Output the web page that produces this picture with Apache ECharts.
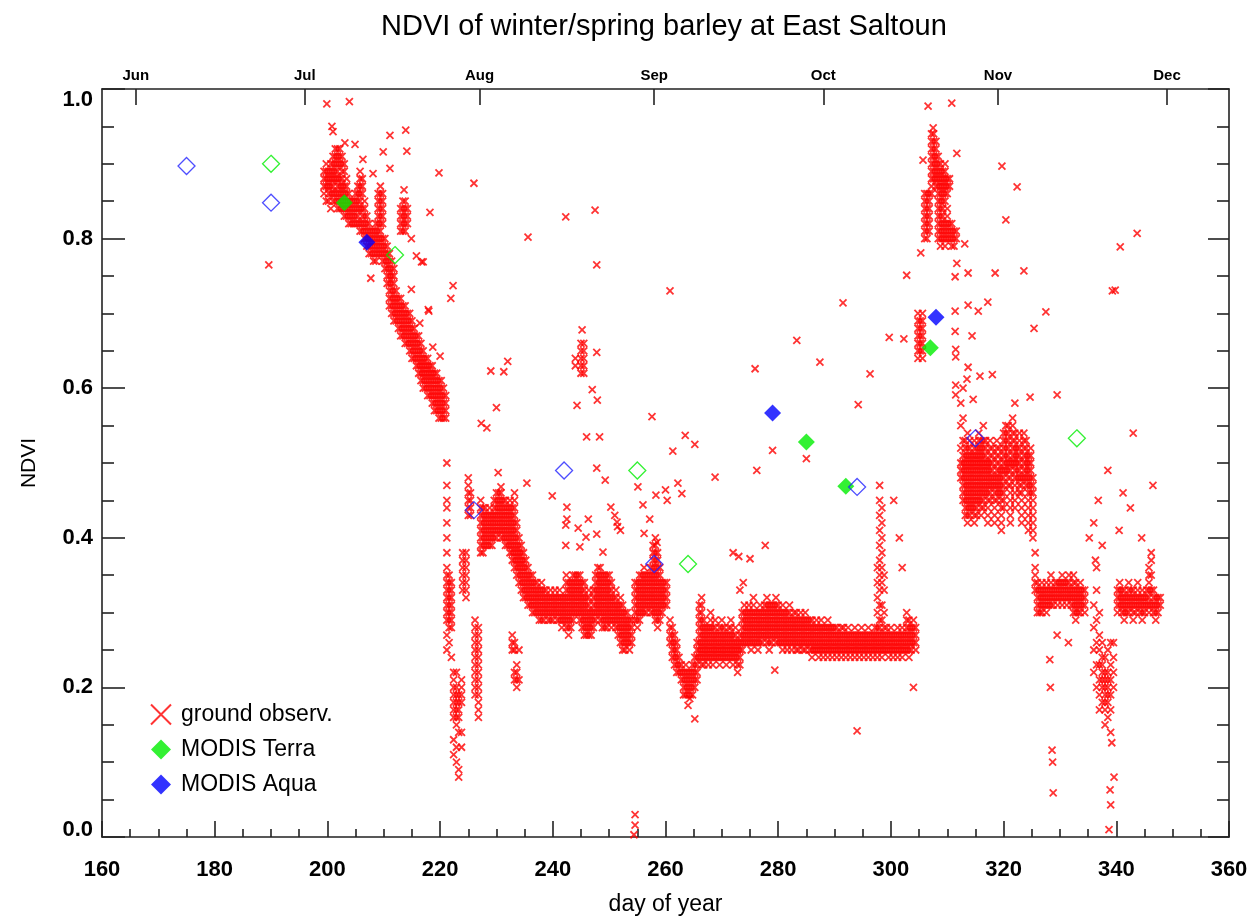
<!DOCTYPE html>
<html>
<head>
<meta charset="utf-8">
<title>NDVI of winter/spring barley at East Saltoun</title>
<script src="https://cdn.jsdelivr.net/npm/echarts@6/dist/echarts.min.js"></script>
<style>
  html, body { margin: 0; padding: 0; background: #fff; }
  #chart { width: 1251px; height: 917px; }
</style>
</head>
<body>
<div id="chart"></div>
<script>
// Ground NDVI readings, grouped by observation slot: [day of year, ndvi, ndvi, ...]
const groundJul = [
  [199.4,.86,.87,.88,.89],[199.8,.85,.87,.88,.89,.90],[200.2,.85,.86,.87,.88,.89],
  [200.6,.84,.86,.87,.88,.89,.90],[201.0,.85,.86,.87,.88,.89,.90,.91],
  [201.4,.85,.86,.88,.89,.90,.91,.92],[201.8,.84,.85,.86,.87,.88,.89,.90,.91,.92],
  [202.2,.84,.85,.86,.87,.88,.90,.91,.92],[202.6,.84,.85,.86,.87,.88,.89,.90,.91],
  [203.0,.83,.84,.85,.86,.87,.89,.90],[203.4,.83,.84,.85,.86,.87,.88],
  [203.8,.82,.83,.84,.85,.86],[204.2,.82,.83,.84,.85],[204.6,.82,.83,.84,.85],
  [205.0,.82,.83,.84,.85,.86],[205.4,.82,.83,.84,.85,.86,.87],
  [205.8,.81,.82,.84,.85,.86,.87,.88,.89],[206.2,.81,.82,.83,.84,.86,.87,.88],
  [206.6,.80,.81,.82,.83,.84,.85],[207.0,.79,.80,.81,.82,.83],[207.4,.78,.79,.80,.81,.82],
  [207.8,.78,.79,.80,.81],[208.2,.77,.78,.79,.80,.81],[208.6,.77,.78,.79,.80,.81,.82],
  [209.0,.78,.79,.80,.81,.82,.83,.84,.85,.86],[209.4,.78,.79,.80,.81,.82,.83,.84,.85,.86,.87],
  [209.8,.77,.78,.79,.80,.82,.83,.84,.85,.86],[210.2,.76,.77,.78,.79,.80],
  [210.6,.74,.75,.76,.77,.78,.79],[211.0,.71,.72,.73,.74,.75,.76,.77,.78],
  [211.4,.70,.71,.72,.73,.74,.75,.76,.77],[211.8,.69,.70,.71,.72,.73,.74,.75,.76],
  [212.2,.69,.70,.71,.72,.73],[212.6,.68,.69,.70,.71,.72],
  [213.0,.67,.68,.69,.70,.71,.72,.81,.82,.83,.84],[213.4,.67,.68,.69,.70,.71,.81,.82,.83,.84,.85],
  [213.8,.66,.67,.68,.69,.70,.71,.81,.82,.83,.84,.85],[214.2,.66,.67,.68,.69,.70,.82,.83,.84],
  [214.6,.65,.66,.67,.68,.69,.70],[215.0,.64,.65,.66,.67,.68,.69],[215.4,.64,.65,.66,.67,.68],
  [215.8,.63,.64,.65,.66,.67],[216.2,.62,.63,.64,.65,.66,.67],[216.6,.61,.62,.63,.64,.65,.66],
  [217.0,.60,.61,.62,.63,.64,.65],[217.4,.60,.61,.62,.63,.64],[217.8,.59,.60,.61,.62,.63,.64],
  [218.2,.59,.60,.61,.62,.63],[218.6,.58,.59,.60,.61,.62,.63],[219.0,.57,.58,.59,.60,.61,.62],
  [219.4,.57,.58,.59,.60,.61,.62],[219.8,.56,.57,.58,.59,.60,.61],[220.2,.56,.57,.58,.59,.60,.61],
  [220.6,.56,.57,.58,.59,.60],[221.0,.56,.57,.58,.59]
];

const groundAug = [
  [221.2,.50,.47,.45,.44,.42,.40,.38,.36,.35,.34,.33,.32,.31,.30,.29,.27,.25],
  [221.6,.35,.34,.33,.32,.31,.30,.29,.28,.26],[222.0,.34,.33,.32,.31,.30,.29,.28,.24],
  [222.4,.22,.21,.20,.19,.18,.17,.16,.13,.11],[222.9,.22,.20,.19,.18,.17,.16,.15,.12,.10],
  [223.3,.19,.18,.17,.16,.14,.09,.08],[223.8,.21,.20,.19,.18,.14,.12],
  [224.0,.38,.37,.36,.35,.34,.33],[224.6,.38,.37,.36,.35,.34,.33,.32],
  [225.0,.43,.44,.45,.46,.47,.48],[225.4,.43,.44,.45,.46],
  [226.2,.29,.28,.27,.26,.25,.24,.23,.22,.21,.20,.19],
  [226.8,.28,.27,.26,.25,.24,.23,.22,.21,.20,.19,.18,.17,.16],
  [227.2,.38,.39,.40,.41,.42,.43,.44,.45],[227.6,.38,.39,.40,.41,.42,.43,.44],
  [228.0,.39,.40,.41,.42,.43,.44],[228.4,.39,.40,.41,.42,.43],[228.8,.39,.40,.41,.42,.43,.44],
  [229.2,.39,.40,.41,.42,.43],[229.6,.40,.41,.42,.43,.44,.45],[230.0,.40,.41,.42,.43,.44,.45,.46],
  [230.4,.41,.42,.43,.44,.45,.46],[230.8,.40,.41,.42,.43,.44,.45,.46],[231.2,.40,.41,.42,.43,.44,.45],
  [231.6,.39,.40,.41,.42,.43,.44,.45],[232.0,.39,.40,.41,.42,.43,.44],
  [232.4,.38,.39,.40,.41,.42,.43,.44,.45],[232.8,.37,.38,.39,.40,.41,.42,.43,.44,.27,.26,.25],
  [233.2,.36,.37,.38,.39,.40,.41,.42,.43,.44,.45,.46,.26,.25,.22,.21],
  [233.6,.35,.36,.37,.38,.39,.40,.41,.42,.23,.22,.21,.20],[234.0,.34,.35,.36,.37,.38,.39,.40,.25,.21],
  [234.4,.33,.34,.35,.36,.37,.38,.39],[234.8,.32,.33,.34,.35,.36,.37,.38],
  [235.2,.32,.33,.34,.35,.36,.37],[235.6,.31,.32,.33,.34,.35,.36],[236.0,.31,.32,.33,.34,.35],
  [236.4,.30,.31,.32,.33,.34,.35],[236.8,.30,.31,.32,.33,.34],[237.2,.30,.31,.32,.33,.34],
  [237.6,.29,.30,.31,.32,.33],[238.0,.29,.30,.31,.32,.33,.34],[238.4,.29,.30,.31,.32,.33],
  [238.8,.30,.31,.32,.33],[239.2,.29,.30,.31,.32],[239.6,.29,.30,.31,.32,.33],
  [240.0,.29,.30,.31,.32],[240.4,.30,.31,.32,.33],[240.8,.29,.30,.31,.32],
  [241.2,.29,.30,.31,.32,.33],[241.6,.28,.29,.30,.31,.32],[242.0,.29,.30,.31,.32],
  [242.4,.28,.29,.30,.31,.32,.33,.34,.35],[242.8,.27,.28,.29,.30,.31,.32,.33,.34],
  [243.2,.28,.29,.30,.31,.32,.33,.34],[243.6,.29,.30,.31,.32,.33,.34,.35],
  [244.0,.30,.31,.32,.33,.34,.35,.63,.64],[244.4,.30,.31,.32,.33,.34,.35],
  [244.8,.29,.30,.31,.32,.33,.34,.35],[245.0,.62,.63,.64,.65,.66],
  [245.2,.28,.29,.30,.31,.32,.33,.34],[245.5,.62,.63,.64,.65,.66],
  [245.6,.27,.28,.29,.30,.31,.32,.33,.34],[246.0,.27,.28,.29,.30,.31,.32],
  [246.4,.27,.28,.29,.30,.31,.32,.33],[246.8,.27,.28,.29,.30],[247.2,.28,.29,.30,.31,.32,.33],
  [247.6,.29,.30,.31,.32,.33,.34,.35],[248.0,.30,.31,.32,.33,.34,.35,.36],
  [248.4,.29,.30,.31,.32,.33,.34,.35,.36],[248.8,.28,.29,.30,.31,.32,.33,.34,.35],
  [249.2,.28,.29,.30,.31,.32,.33,.34,.35],[249.6,.28,.29,.30,.31,.32,.33,.34,.35],
  [250.0,.29,.30,.31,.32,.33,.34,.35],[250.4,.28,.29,.30,.31,.32,.33,.34],
  [250.8,.29,.30,.31,.32],[251.2,.28,.29,.30,.31,.32,.33],[251.6,.27,.28,.29,.30,.31],
  [252.0,.26,.27,.28,.29,.30,.31,.32],[252.4,.25,.26,.27,.28,.29,.30,.31],
  [252.8,.25,.26,.27,.28,.29,.30],[253.2,.26,.27,.28,.29,.30],[253.6,.25,.26,.27,.28,.29],
  [254.0,.26,.27,.28,.29]
];

const groundSep = [
  [254.6,.29,.30,.31,.32,.33,.34],[255.0,.28,.29,.30,.31,.32,.33,.34],
  [255.4,.29,.30,.31,.32,.33,.34,.35],[255.8,.30,.31,.32,.33,.34,.35],
  [256.2,.30,.31,.32,.33,.34,.35,.36],[256.6,.30,.31,.32,.33,.34,.35],[257.0,.31,.32,.33,.34,.35],
  [257.4,.30,.31,.32,.33,.34,.35,.36],[257.8,.30,.31,.32,.33,.34,.35,.36,.37,.38,.39],
  [258.2,.29,.30,.31,.32,.33,.34,.35,.36,.37,.38,.39,.40],
  [258.6,.28,.29,.30,.31,.32,.33,.34,.35,.36,.37,.38],[259.0,.29,.30,.31,.32,.33,.34,.35,.36],
  [259.4,.30,.31,.32,.33,.34],[259.8,.31,.32,.33,.34],[260.2,.31,.32,.33,.34],
  [260.8,.26,.27,.28,.29],[261.2,.24,.25,.26,.27,.28],[261.6,.23,.24,.25,.26,.27],
  [262.0,.22,.23,.24,.25,.26],[262.4,.22,.23,.24],[262.8,.21,.22,.23],
  [263.2,.19,.20,.21,.22],[263.6,.19,.20,.21,.22,.23],[264.0,.19,.20,.21,.22],
  [264.4,.19,.20,.21,.22],[264.8,.19,.20,.21,.22,.23],[265.2,.20,.21,.22,.23,.24],
  [265.6,.21,.22,.23,.24,.25,.26],
  [266.0,.24,.25,.26,.27,.28,.29,.30,.31],[266.4,.23,.24,.25,.26,.27,.28,.29,.30,.31,.32],
  [266.8,.23,.24,.25,.26,.27,.28,.29],[267.2,.24,.25,.26,.27,.28],[267.6,.23,.24,.25,.26,.27,.28],
  [268.0,.24,.25,.26,.27,.28,.29,.30],[268.4,.23,.24,.25,.26,.27,.28],[268.8,.24,.25,.26,.27,.28,.29],
  [269.2,.24,.25,.26,.27],[269.6,.23,.24,.25,.26,.27,.28],[270.0,.24,.25,.26,.27,.28,.29],
  [270.4,.24,.25,.26,.27,.28],[270.8,.23,.24,.25,.26,.27],[271.2,.24,.25,.26,.27,.28],
  [271.6,.24,.25,.26,.27,.28,.29],[272.0,.23,.24,.25,.26,.27],[272.4,.24,.25,.26,.27,.28],
  [272.8,.22,.23,.24,.25,.26],[273.2,.23,.24,.25,.26,.27],[273.6,.25,.26,.27,.28,.29,.30],
  [274.0,.26,.27,.28,.29,.30,.31],[274.4,.26,.27,.28,.29,.30],[274.8,.26,.27,.28,.29,.30,.31],
  [275.2,.25,.26,.27,.28,.29,.30],[275.6,.26,.27,.28,.29,.30,.31,.32],[276.0,.26,.27,.28,.29,.30],
  [276.4,.25,.26,.27,.28,.29,.30],[276.8,.26,.27,.28,.29,.30,.31],[277.2,.26,.27,.28,.29,.30],
  [277.6,.27,.28,.29,.30,.31],[278.0,.26,.27,.28,.29,.30,.31,.32],[278.4,.25,.26,.27,.28,.29,.30,.31],
  [278.8,.26,.27,.28,.29,.30,.31],[279.2,.27,.28,.29,.30,.31],[279.6,.26,.27,.28,.29,.30,.31,.32],
  [280.0,.26,.27,.28,.29,.30,.31],[280.4,.26,.27,.28,.29,.30],[280.8,.25,.26,.27,.28,.29,.30,.31],
  [281.2,.26,.27,.28,.29,.30],[281.6,.25,.26,.27,.28,.29,.30],[282.0,.26,.27,.28,.29,.30,.31],
  [282.4,.25,.26,.27,.28,.29],[282.8,.26,.27,.28,.29,.30],[283.2,.25,.26,.27,.28,.29,.30],
  [283.6,.25,.26,.27,.28,.29],[284.0,.26,.27,.28,.29,.30],[284.4,.25,.26,.27,.28,.29],
  [284.8,.25,.26,.27,.28,.29,.30],[285.2,.26,.27,.28,.29],[285.6,.25,.26,.27,.28,.29]
];

const groundOct = [
  [286.0,.24,.25,.26,.27,.28,.29],[286.4,.25,.26,.27,.28],[286.8,.25,.26,.27,.28,.29],
  [287.2,.24,.25,.26,.27,.28],[287.6,.25,.26,.27,.28,.29],[288.0,.24,.25,.26,.27,.28],
  [288.4,.25,.26,.27,.28],[288.8,.24,.25,.26,.27,.28,.29],[289.2,.25,.26,.27,.28],
  [289.6,.24,.25,.26,.27,.28],[290.0,.25,.26,.27,.28],[290.4,.24,.25,.26,.27,.28],
  [290.8,.25,.26,.27],[291.2,.24,.25,.26,.27,.28],[291.6,.25,.26,.27,.28],[292.0,.24,.25,.26,.27],
  [292.4,.25,.26,.27,.28],[292.8,.24,.25,.26,.27],[293.2,.25,.26,.27],[293.6,.24,.25,.26,.27,.28],
  [294.0,.25,.26,.27],[294.4,.24,.25,.26,.27],[294.8,.25,.26,.27,.28],[295.2,.24,.25,.26,.27],
  [295.6,.25,.26,.27],[296.0,.24,.25,.26,.27,.28],[296.4,.25,.26,.27],[296.8,.24,.25,.26,.27],
  [297.2,.25,.26,.27,.28],[297.6,.24,.25,.26,.27,.28,.30,.32,.34,.36],
  [298.0,.25,.26,.27,.28,.29,.31,.33,.35,.37,.39,.41,.43,.45,.47],
  [298.4,.24,.25,.26,.27,.29,.31,.34,.36,.38,.40,.42,.44],[298.8,.25,.26,.27,.28,.30,.33,.35],
  [299.2,.25,.26,.27,.28],[299.6,.24,.25,.26,.27],[300.0,.25,.26,.27,.28],[300.4,.24,.25,.26,.27],
  [300.8,.25,.26,.27],[301.2,.24,.25,.26,.27,.28],[301.6,.25,.26,.27],[302.0,.24,.25,.26,.27,.28],
  [302.4,.25,.26,.27],[302.8,.25,.26,.27,.28,.29,.30],[303.2,.24,.25,.26,.27,.28,.29],
  [303.6,.25,.26,.27,.28],[304.0,.26,.27,.28,.29],[304.4,.25,.26,.27,.28],
  [304.8,.64,.65,.66,.67,.68,.69,.70],[305.2,.65,.66,.67,.68,.69],[305.6,.64,.65,.66,.67,.68,.69,.70],
  [306.0,.80,.81,.82,.83,.84,.85,.86],[306.4,.80,.81,.82,.83,.84,.85,.86],[306.8,.81,.82,.83,.84,.85,.86],
  [307.2,.86,.87,.88,.89,.90,.91,.92,.93,.94],[307.6,.88,.89,.90,.91,.92,.93,.94],
  [308.0,.87,.88,.89,.90,.91,.92,.93],[308.4,.80,.81,.82,.83,.84,.85,.86,.87,.88,.89,.90,.91],
  [308.8,.79,.80,.81,.82,.83,.84,.85,.86,.87,.88,.89,.90],[309.2,.80,.81,.82,.83,.84,.85,.86,.87,.88,.89],
  [309.6,.79,.80,.81,.82,.85,.86,.87,.88,.89,.90],[310.0,.80,.81,.82,.83,.84,.86,.87,.88],
  [310.4,.80,.81,.82,.87,.88],[310.8,.79,.80,.81,.82],[311.2,.79,.80,.81],[311.6,.80,.81]
];

const groundNov = [
  [312.4,.48,.49,.50,.52,.55,.58],[312.8,.45,.46,.47,.48,.49,.50,.51,.53,.56,.60],
  [313.2,.43,.44,.45,.46,.47,.48,.49,.50,.51,.52,.53],[313.6,.42,.43,.44,.45,.46,.47,.48,.49,.50,.51,.52,.54],
  [314.0,.43,.44,.45,.46,.47,.48,.49,.50,.51,.52,.53],[314.4,.44,.45,.46,.47,.48,.49,.50,.51],
  [314.8,.42,.43,.44,.45,.46,.47,.48,.49,.50,.51,.52,.53],[315.2,.43,.44,.45,.46,.47,.48,.49,.50,.51,.52],
  [315.6,.45,.46,.47,.48,.49,.50,.51,.52,.53,.54],[316.0,.43,.44,.45,.46,.47,.48,.49,.50,.51,.52,.53],
  [316.4,.44,.45,.46,.47,.48,.49,.50,.51,.52,.53,.55],[316.8,.46,.47,.48,.49,.50,.51,.52,.53],
  [317.2,.42,.43,.44,.45,.46,.47,.48,.49,.50],[317.6,.45,.46,.47,.48,.49,.50,.51,.52,.53],
  [318.0,.47,.48,.49,.50,.51,.52],[318.4,.42,.43,.44,.45,.46,.47,.48],
  [318.8,.45,.46,.47,.48,.49,.50,.51,.52,.53],[319.2,.46,.47,.48,.49,.50,.51,.52],
  [319.6,.41,.42,.43,.44,.45,.46,.47,.48,.49],[320.0,.44,.45,.46,.47,.48,.49,.50,.51,.52,.53,.54],
  [320.4,.49,.50,.51,.52,.53,.54,.55],[320.8,.47,.48,.49,.50,.51,.52,.53,.54,.55],
  [321.2,.42,.43,.44,.45,.46,.47,.48,.49,.50],[321.6,.50,.51,.52,.53,.54,.55,.56],
  [322.0,.44,.45,.46,.47,.48,.49,.50,.51,.52,.53,.54],[322.4,.48,.49,.50,.51,.52],
  [322.8,.46,.47,.48,.49,.50,.51,.52,.53,.54],[323.2,.42,.43,.44,.45,.46,.47,.48],
  [323.6,.48,.49,.50,.51,.52,.53,.54],[324.0,.47,.48,.49,.50,.51,.52,.53],
  [324.4,.41,.42,.43,.44,.45,.46,.47,.48,.49,.50,.51],[324.8,.46,.47,.48,.49,.50,.51,.52],
  [325.2,.40,.41,.42,.43,.44,.45,.46,.47,.48],[325.6,.33,.34,.35,.36,.38],
  [326.0,.30,.31,.32,.33,.34],[326.4,.30,.31,.32,.33],[326.8,.30,.31,.32,.33,.34],[327.2,.31,.32,.33],
  [327.6,.30,.31,.32,.33,.34],[328.0,.31,.32,.33],[328.4,.31,.32,.33,.34,.35],[328.8,.31,.32,.33],
  [329.2,.32,.33,.34],[329.6,.31,.32,.33,.34],[330.0,.32,.33,.34],[330.4,.31,.32,.33,.34,.35],
  [330.8,.32,.33,.34],[331.2,.31,.32,.33,.34],[331.6,.32,.33,.34,.35],[332.0,.31,.32,.33],
  [332.4,.30,.31,.32,.33,.34,.35],[332.8,.29,.30,.31,.32,.33,.34],[333.2,.30,.31,.32,.33],
  [333.6,.30,.31,.32,.33,.34],[334.0,.31,.32,.33],[334.4,.30,.31,.32,.33],
  [336.0,.22,.25,.28,.31],[336.5,.20,.23,.26,.29,.33,.36],[337.0,.17,.19,.21,.23,.25,.27,.30],
  [337.5,.18,.20,.21,.22,.23,.24,.26],[338.0,.15,.17,.18,.19,.20,.21,.22,.24],
  [338.5,.16,.18,.19,.20,.21,.22,.25],[339.0,.14,.17,.19,.21,.23,.26],[339.5,.20,.22,.24,.26]
];

const groundDec = [
  [340.2,.30,.31,.32,.33],[340.6,.31,.32,.33,.34],[341.0,.30,.31,.32,.33],[341.4,.29,.30,.31,.32,.33],
  [341.8,.30,.31,.32],[342.2,.30,.31,.32,.33,.34],[342.6,.31,.32,.33],[343.0,.29,.30,.31,.32,.33],
  [343.4,.30,.31,.32],[343.8,.31,.32,.33,.34],[344.2,.30,.31,.32],[344.6,.29,.30,.31,.32,.33],
  [345.0,.30,.31,.32],[345.4,.31,.32,.33],[345.8,.30,.31,.32,.33,.34,.35,.36],
  [346.2,.31,.33,.35,.37,.38],[346.6,.30,.31,.32,.33],[347.0,.29,.30,.31,.32],
  [347.4,.30,.31,.32],[347.8,.31,.32]
];

// Isolated ground readings: [day of year, ndvi]
const groundIsolated = [
  [189.6,.765],[199.9,.98],[203.9,.983],[200.8,.95],[201.0,.943],[203.1,.928],[204.9,.926],
  [211.1,.938],[213.9,.945],[209.9,.916],[214.1,.917],[206.3,.906],[211.1,.894],[219.8,.888],
  [208.1,.887],[213.6,.865],[218.2,.835],[214.9,.80],[216.7,.769],[215.8,.777],[207.7,.747],
  [214.9,.732],[217.9,.705],[217.0,.769],[222.3,.737],[221.9,.72],[218.0,.703],[218.7,.655],
  [220.0,.643],[216.4,.687],[226.0,.874],[235.6,.802],[242.3,.829],[247.5,.838],
  [232.0,.636],[229.0,.623],[231.3,.622],[230.0,.574],[227.3,.553],[228.3,.547],[245.2,.678],
  [247.8,.765],[260.8,.73],[247.8,.648],[247.0,.598],[247.9,.584],[244.3,.577],[257.6,.562],
  [246.0,.535],[248.3,.535],[263.5,.537],[265.2,.525],[261.3,.516],[275.9,.626],[276.2,.49],
  [268.8,.481],[230.3,.487],[230.8,.468],[235.4,.473],[239.9,.456],[242.5,.441],[247.8,.493],
  [249.3,.477],[255.1,.468],[260.0,.464],[256.0,.444],[262.2,.473],[262.9,.459],[258.3,.457],
  [260.3,.45],[250.3,.441],[242.5,.425],[246.3,.425],[242.3,.417],[244.5,.413],[247.8,.405],
  [245.9,.401],[242.3,.39],[248.9,.381],[244.8,.388],[251.4,.421],[251.0,.43],[251.5,.415],
  [252.0,.41],[257.2,.425],[256.2,.406],[258.5,.394],[277.7,.39],[273.8,.34],[273.2,.33],
  [272.0,.38],[273.0,.375],[275.0,.372],[254.6,.03],[254.6,.016],[254.4,.003],
  [265.2,.158],[264.0,.176],[264.3,.185],[279.4,.223],[294.0,.142],
  [283.3,.664],[279.0,.517],[285.0,.506],[287.4,.635],[291.5,.714],[294.2,.578],[296.3,.619],
  [299.7,.668],[302.3,.666],[302.8,.751],[304.0,.20],[300.5,.45],[301.5,.40],[302.0,.36],
  [306.6,.977],[310.8,.981],[307.5,.948],[311.7,.914],[305.7,.905],[319.7,.897],[322.4,.869],
  [320.4,.825],[343.7,.807],[340.7,.789],[305.3,.781],[313.1,.793],[311.7,.767],[311.4,.749],
  [313.7,.754],[318.5,.754],[323.6,.757],[339.8,.731],[313.7,.711],[315.5,.703],[317.2,.715],
  [327.5,.702],[311.4,.703],[325.4,.68],[311.4,.676],[314.4,.67],[311.5,.652],[311.5,.642],
  [313.7,.628],[315.8,.616],[318.0,.618],[313.5,.612],[311.5,.604],[311.5,.591],[314.6,.585],
  [322.0,.58],[324.7,.588],[329.5,.591],
  [328.2,.237],[328.3,.20],[328.6,.116],[328.7,.10],[328.8,.059],[329.5,.27],[331.5,.26],
  [335.2,.40],[336.3,.37],[336.0,.42],[336.8,.45],[337.5,.39],[338.5,.49],[339.2,.126],
  [339.6,.08],[338.9,.063],[339.0,.043],[338.7,.01],[340.5,.41],[341.2,.46],[342.5,.44],
  [343.0,.54],[344.5,.40],[346.5,.47],[339.3,.73]
];

// MODIS NDVI retrievals: [day of year, ndvi]
const terraFilled = [[203,.848],[285,.528],[292,.469],[307,.654]];
const terraOpen   = [[190,.90],[212,.778],[255,.49],[264,.365],[333,.533]];
const aquaFilled  = [[207,.795],[279,.567],[308,.695]];
const aquaOpen    = [[175,.897],[190,.848],[226,.437],[242,.49],[258,.365],[294,.468],[315,.533]];

// Top axis: months marked at the 15th of each month
const monthNames = ['Jun','Jul','Aug','Sep','Oct','Nov','Dec'];
const monthDays  = [166,196,227,258,288,319,349];

function expandSlots(rows) {
  const pts = [];
  rows.forEach(function (r) {
    for (let i = 1; i < r.length; i++) pts.push([r[0], r[i]]);
  });
  return pts;
}

const groundPoints = []
  .concat(expandSlots(groundJul), expandSlots(groundAug), expandSlots(groundSep),
          expandSlots(groundOct), expandSlots(groundNov), expandSlots(groundDec), groundIsolated);

const FONT = '"Liberation Sans", Arial, Helvetica, sans-serif';
const INK = '#000';
const LINE = { color: '#222', width: 1.6 };
const XMARK = 'path://M0,0L10,10M10,0L0,10';

const chart = echarts.init(document.getElementById('chart'), null, { renderer: 'canvas' });

chart.setOption({
  animation: false,
  backgroundColor: '#fff',
  title: {
    text: 'NDVI of winter/spring barley at East Saltoun',
    left: 376,
    top: 7,
    textStyle: { fontFamily: FONT, fontSize: 29, fontWeight: 'normal', color: INK }
  },
  grid: { left: 102, right: 22, top: 89, bottom: 80, outerBoundsMode: 'none' },
  legend: {
    orient: 'vertical',
    left: 145,
    top: 698,
    itemWidth: 20,
    itemHeight: 20,
    itemGap: 12,
    data: ['ground observ.', 'MODIS Terra', 'MODIS Aqua'],
    textStyle: { fontFamily: FONT, fontSize: 23, color: INK, padding: [0, 0, 0, 5] }
  },
  xAxis: [
    {
      type: 'value', position: 'bottom', min: 160, max: 360, interval: 20,
      name: 'day of year', nameLocation: 'middle', nameGap: 56,
      nameTextStyle: { fontFamily: FONT, fontSize: 23, color: INK },
      axisLine: { show: true, onZero: false, lineStyle: LINE },
      axisTick: { show: true, inside: true, length: 16, lineStyle: LINE },
      minorTick: { show: true, splitNumber: 4, length: 8, lineStyle: LINE },
      splitLine: { show: false },
      axisLabel: { margin: 22, fontFamily: FONT, fontSize: 22, fontWeight: 'bold', color: INK }
    },
    {
      type: 'value', position: 'top', min: 160, max: 360,
      axisLine: { show: true, onZero: false, lineStyle: LINE },
      axisTick: { show: true, inside: true, length: 16, customValues: monthDays, lineStyle: LINE },
      splitLine: { show: false },
      axisLabel: {
        customValues: monthDays, margin: 6, fontFamily: FONT, fontSize: 15, fontWeight: 'bold', color: INK,
        formatter: function (v) { return monthNames[monthDays.indexOf(v)] || ''; }
      }
    }
  ],
  yAxis: [
    {
      type: 'value', position: 'left', min: 0, max: 1, interval: 0.2,
      name: 'NDVI', nameLocation: 'middle', nameGap: 62, nameRotate: 90,
      nameTextStyle: { fontFamily: FONT, fontSize: 21, color: INK },
      axisLine: { show: true, onZero: false, lineStyle: LINE },
      axisTick: { show: true, inside: true, length: 23, lineStyle: LINE },
      minorTick: { show: true, splitNumber: 4, length: 12, lineStyle: LINE },
      splitLine: { show: false },
      axisLabel: {
        margin: 9, fontFamily: FONT, fontSize: 22, fontWeight: 'bold', color: INK,
        formatter: function (v) {
          if (Math.abs(v - 1) < 1e-9) return '{hi|1.0}';
          if (Math.abs(v) < 1e-9) return '{lo|0.0}';
          return v.toFixed(1);
        },
        rich: {
          hi: { fontFamily: FONT, fontSize: 22, fontWeight: 'bold', color: INK, padding: [22, 0, 0, 0] },
          lo: { fontFamily: FONT, fontSize: 22, fontWeight: 'bold', color: INK, padding: [0, 0, 14, 0] }
        }
      }
    },
    {
      type: 'value', position: 'right', min: 0, max: 1, interval: 0.2,
      axisLine: { show: true, onZero: false, lineStyle: LINE },
      axisTick: { show: true, inside: true, length: 21, lineStyle: LINE },
      minorTick: { show: true, splitNumber: 4, length: 12, lineStyle: LINE },
      splitLine: { show: false },
      axisLabel: { show: false }
    }
  ],
  series: [
    {
      name: 'ground observ.', type: 'scatter', xAxisIndex: 0, yAxisIndex: 0,
      symbol: XMARK, symbolSize: 7, large: false,
      itemStyle: { color: 'rgba(0,0,0,0)', borderColor: '#ff0000', borderWidth: 1.8 },
      data: groundPoints
    },
    {
      name: 'MODIS Terra', type: 'scatter', symbol: 'diamond', symbolSize: 17,
      itemStyle: { color: '#00ee00' }, data: terraFilled
    },
    {
      name: 'MODIS Aqua', type: 'scatter', symbol: 'diamond', symbolSize: 17,
      itemStyle: { color: '#0000ff' }, data: aquaFilled
    },
    {
      name: 'MODIS Terra (open)', type: 'scatter', symbol: 'diamond', symbolSize: 17,
      itemStyle: { color: 'rgba(0,0,0,0)', borderColor: '#00ee00', borderWidth: 1.3 }, data: terraOpen
    },
    {
      name: 'MODIS Aqua (open)', type: 'scatter', symbol: 'diamond', symbolSize: 17,
      itemStyle: { color: 'rgba(0,0,0,0)', borderColor: '#2222ff', borderWidth: 1.3 }, data: aquaOpen
    }
  ]
});
</script>
</body>
</html>
